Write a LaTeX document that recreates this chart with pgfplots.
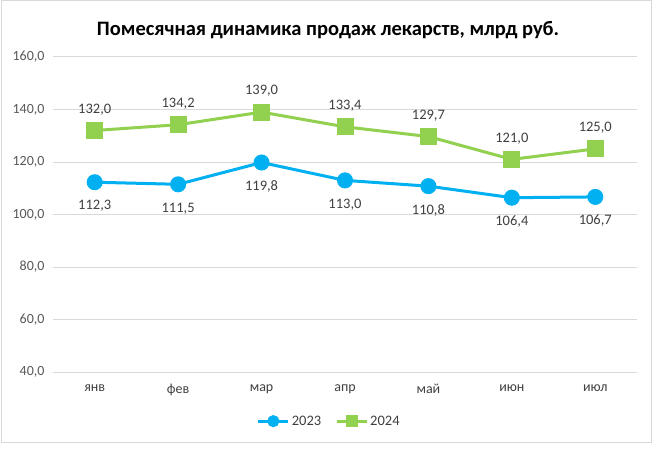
\documentclass[border=0pt]{standalone}
\usepackage{pgfplots}
\pgfplotsset{compat=1.18}
\usepackage{fontspec}
\setmainfont{Carlito}
\definecolor{blue23}{HTML}{00B0F0}
\definecolor{green24}{HTML}{92D050}
\definecolor{gridc}{HTML}{D9D9D9}
\definecolor{txt}{HTML}{595959}
\definecolor{lbl}{HTML}{404040}
\begin{document}
\begin{tikzpicture}[x=1pt,y=1pt]
\path[fill=white] (0,0) rectangle (658,448);
\draw[gridc, line width=1pt] (1,6) rectangle (651,447);
\node[font=\fontsize{20.5}{24}\selectfont\bfseries, text=black] at (328,418)
  {Помесячная динамика продаж лекарств, млрд руб.};
\begin{axis}[
  at={(53pt,76pt)}, anchor=south west,
  scale only axis, width=584pt, height=315pt,
  xmin=-0.5, xmax=6.5, ymin=40, ymax=160,
  ytick={40,60,...,160},
  xtick={0,...,6},
  xticklabels={янв,фев,мар,апр,май,июн,июл},
  ymajorgrids, grid style={gridc, line width=1pt},
  axis line style={draw=none},
  major tick length=0pt,
  /pgf/number format/.cd, fixed, fixed zerofill, precision=1, use comma, assume math mode=true,
  /pgfplots/.cd,
  tick label style={font=\fontsize{14}{16}\selectfont, text=txt},
  yticklabel style={xshift=-5pt},
  xticklabel style={yshift=-9pt, text=lbl},
  clip=false,
  legend style={at={(0.473,-0.156)}, anchor=center, draw=none, fill=none,
    legend columns=2, font=\fontsize{14.5}{16}\selectfont, text=lbl,
    /tikz/every even column/.append style={column sep=12pt}},
  legend image code/.code={\draw[#1, mark repeat=2, mark phase=2, mark size=4.5pt] plot coordinates {(0pt,0pt) (15pt,0pt) (30pt,0pt)};},
  nodes near coords,
  every node near coord/.append style={font=\fontsize{14.5}{16}\selectfont, text=lbl, anchor=center},
]
\addplot[blue23, line width=3pt, mark=*, mark size=6.5pt,
  every node near coord/.append style={yshift=-24pt}]
  coordinates {(0,112.3) (1,111.5) (2,119.8) (3,113.0) (4,110.8) (5,106.4) (6,106.7)};
\addlegendentry{2023}
\addplot[green24, line width=3pt, mark=square*, mark size=7pt,
  every node near coord/.append style={yshift=21pt}]
  coordinates {(0,132.0) (1,134.2) (2,139.0) (3,133.4) (4,129.7) (5,121.0) (6,125.0)};
\addlegendentry{2024}
\end{axis}
\end{tikzpicture}
\end{document}
